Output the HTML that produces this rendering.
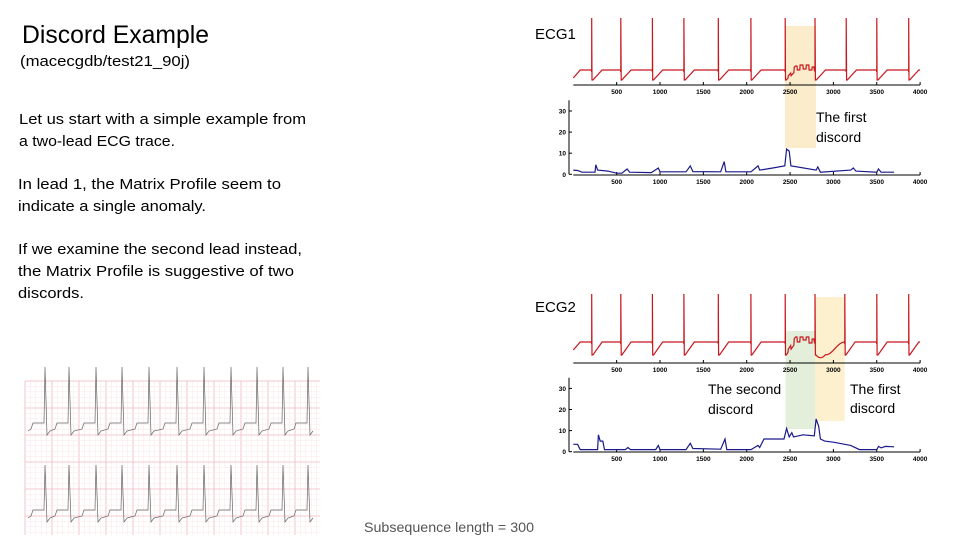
<!DOCTYPE html>
<html><head><meta charset="utf-8"><style>
html,body{margin:0;padding:0;background:#fff;}
svg{display:block;font-family:"Liberation Sans",sans-serif;}
</style></head><body>
<svg id="s" width="960" height="540" viewBox="0 0 960 540">
<text x="22" y="43" font-size="25" textLength="187" lengthAdjust="spacingAndGlyphs">Discord Example</text>
<text x="20" y="66" font-size="15" textLength="170" lengthAdjust="spacingAndGlyphs">(macecgdb/test21_90j)</text>
<g font-size="15">
<text x="19" y="124" textLength="287" lengthAdjust="spacingAndGlyphs">Let us start with a simple example from</text>
<text x="19" y="146" textLength="156" lengthAdjust="spacingAndGlyphs">a two-lead ECG trace.</text>
<text x="18" y="189" textLength="263" lengthAdjust="spacingAndGlyphs">In lead 1, the Matrix Profile seem to</text>
<text x="18" y="211" textLength="188" lengthAdjust="spacingAndGlyphs">indicate a single anomaly.</text>
<text x="18" y="254" textLength="284" lengthAdjust="spacingAndGlyphs">If we examine the second lead instead,</text>
<text x="18" y="276" textLength="276" lengthAdjust="spacingAndGlyphs">the Matrix Profile is suggestive of two</text>
<text x="18" y="298" textLength="66" lengthAdjust="spacingAndGlyphs">discords.</text>
</g>
<text x="535" y="39" font-size="15">ECG1</text>
<text x="535" y="312" font-size="15">ECG2</text>
<text x="364" y="532" font-size="14" fill="#555" textLength="170" lengthAdjust="spacingAndGlyphs">Subsequence length = 300</text>
<g id="hl"></g>
<g id="charts"></g>
<g id="paper"></g>
<text x="816" y="122" font-size="14">The first</text>
<text x="816" y="142" font-size="14">discord</text>
<text x="708" y="394" font-size="14">The second</text>
<text x="708" y="414" font-size="14">discord</text>
<text x="850" y="394" font-size="14">The first</text>
<text x="850" y="413" font-size="14">discord</text>
</svg>
<script>
const xTicks=[500,1000,1500,2000,2500,3000,3500,4000];
const yTicks=[0,10,20,30];
const ecg1Beats=[212,546,911,1276,1672,2046,2442,2788,3146,3500,3865];
const ecg2Beats=[212,546,911,1276,1672,2046,2442,2788,3130,3500,3865];
const discord1=[0,-2,1,-4,0,-5,-1,-5,0,-3];
const discord2a=[0,-3,1,-5,0,-5,-2,-5,1,-3];
const mp1S=[0,50,100,250,260,280,400,500,560,620,650,900,980,1000,1300,1350,1380,1700,1740,1760,2050,2130,2150,2300,2440,2460,2490,2510,2800,2820,2850,3200,3230,3260,3500,3520,3550,3700];
const mp1V=[2,1.8,1,1,4.5,2,1.5,0.5,0.5,2.5,1,0.8,3,1.2,1.2,4,1.3,1.2,6,1.2,1.2,4,2,3,4,12,11,4,2,3.5,1,2,3,1.5,1,2.5,1,1];
const mp2S=[0,50,80,280,290,310,340,360,600,630,660,950,980,1000,1300,1350,1380,1700,1750,1770,2050,2130,2150,2200,2430,2460,2490,2520,2540,2650,2780,2800,2830,2850,2900,3000,3200,3300,3500,3520,3550,3600,3700];
const mp2V=[3.5,3.5,1,1,8,5,5,1,1,2,1,1,3,1,1,4,1.5,1.2,6,1,1,3,2,6,6,11,7,9,7,8,7.5,15.5,12,6,5,4.5,3,1,1,2.5,1.8,2.5,2.3];
const NS="http://www.w3.org/2000/svg";
function mk(tag,attrs,parent){const e=document.createElementNS(NS,tag);for(const k in attrs)e.setAttribute(k,attrs[k]);parent.appendChild(e);return e;}
const sx=s=>573.3+s*0.0867;
const charts=document.getElementById('charts');
const hl=document.getElementById('hl');
function rect(x1,x2,y1,y2,fill,name){const r=mk('rect',{x:sx(x1),y:y1,width:sx(x2)-sx(x1),height:y2-y1,fill:fill},hl);

}
rect(2442,2800,26,148,'#fbeccb','discord-highlight-ecg1');
rect(2448,2788,331,429,'#e3eedb','second-discord-highlight-ecg2');
rect(2788,3130,297,421,'#fdf0cf','first-discord-highlight-ecg2');
function xAxis(y,name){const g=mk('g',{},charts);


mk('line',{x1:sx(0),x2:sx(4000),y1:y,y2:y,stroke:'#000','stroke-width':1},g);
xTicks.forEach(t=>{mk('line',{x1:sx(t),x2:sx(t),y1:y,y2:y-3,stroke:'#000'},g);
const tx=mk('text',{x:sx(t),y:y+9,'font-size':6.5,'text-anchor':'middle','font-weight':'bold'},g);tx.textContent=t;});}
function yAxis(y0,name){const g=mk('g',{},charts);


mk('line',{x1:569,x2:569,y1:y0,y2:y0-74,stroke:'#000'},g);
yTicks.forEach(v=>{const y=y0-v*2.11;mk('line',{x1:569,x2:572,y1:y,y2:y,stroke:'#000'},g);
const tx=mk('text',{x:566,y:y+2.5,'font-size':6.5,'text-anchor':'end','font-weight':'bold'},g);tx.textContent=v;});}
function ecgPath(beats,base,top,low,discords,dip){let d='';
for(let t=0;t<=4000;t+=4){let b=null;for(const bb of beats)if(bb<=t)b=bb;
let y=base;
if(b!==null){const dd=t-b;
if(dd<4)y=top;else if(dd<14)y=low;else if(dd<120)y=low-(low-base)*(dd-14)/106;else y=base;}
else y=base+(t<80?8-t*0.1:0);
discords.forEach(ds=>{if(t>ds.s+10&&t<ds.e-10){const i=Math.floor((t-ds.s)/((ds.e-ds.s)/ds.v.length));y+=ds.v[Math.min(i,ds.v.length-1)];}});
if(dip&&t>dip.s&&t<dip.e){const f=(t-dip.s)/(dip.e-dip.s);y+=dip.a*Math.sin(Math.PI*f)*(1-f);}
const px=sx(t);
if(b!==null&&t-b<4){d+=(d?'L':'M')+px.toFixed(1)+','+(base+2)+'L'+px.toFixed(1)+','+top;}
else d+=(d?'L':'M')+px.toFixed(1)+','+y.toFixed(1);}
return d;}
function line(d,color,name){const p=mk('path',{d:d,fill:'none',stroke:color,'stroke-width':1.2},charts);

}
xAxis(85,'ecg1-x-axis');xAxis(175,'mp1-x-axis');xAxis(363,'ecg2-x-axis');xAxis(452,'mp2-x-axis');
yAxis(174.3,'mp1-y-axis');yAxis(451.7,'mp2-y-axis');
line(ecgPath(ecg1Beats,70,18,80,[{s:2442,e:2788,v:discord1}],null),'#c8161d','ecg1-trace');
line(ecgPath(ecg2Beats,342,294,355,[{s:2442,e:2788,v:discord2a}],{s:2800,e:3130,a:22}),'#c8161d','ecg2-trace');
function mpPath(S,V,y0){return S.map((s,i)=>(i?'L':'M')+sx(s).toFixed(1)+','+(y0-V[i]*2.11).toFixed(1)).join('');}
line(mpPath(mp1S,mp1V,174.3),'#1a1a8a','mp1-trace');
line(mpPath(mp2S,mp2V,451.7),'#1a1a8a','mp2-trace');
const paper=document.getElementById('paper');


for(let i=0,x=25;x<=320;x+=5.4,i++)mk('line',{x1:x,x2:x,y1:381,y2:535,stroke:i%5==0?'#f0b8c0':'#fae6e9','stroke-width':i%5==0?0.8:0.5},paper);
for(let i=0,y=381;y<=535;y+=5.4,i++)mk('line',{x1:25,x2:320,y1:y,y2:y,stroke:i%5==0?'#f0b8c0':'#fae6e9','stroke-width':i%5==0?0.8:0.5},paper);
const paperBeats=[45,69,96,122,149,177,204,231,257,283,308];
[[423,367],[510,465]].forEach(([b,t],k)=>{let d='M28,'+(b+8);paperBeats.forEach(x=>{d+='L'+(x-14)+','+(b+6)+'L'+(x-12)+','+b+'L'+(x-1)+','+b+'L'+x+','+t+'L'+(x+2)+','+(b+12)+'L'+(x+5)+','+(b+8);});
const p=mk('path',{d:d,fill:'none',stroke:'#666','stroke-width':0.7},paper);

});
</script>
</body></html>
